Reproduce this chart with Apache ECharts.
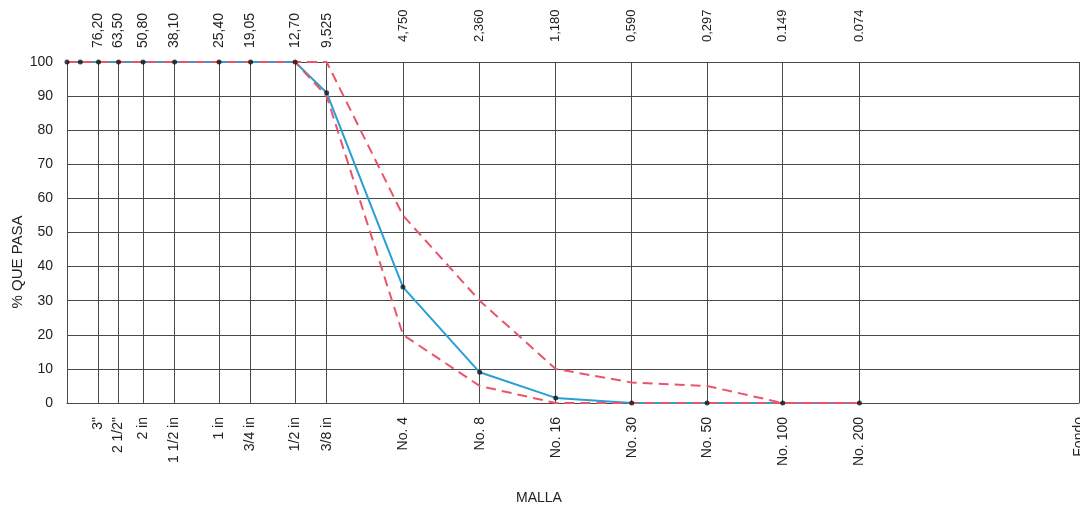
<!DOCTYPE html>
<html>
<head>
<meta charset="utf-8">
<script src="https://cdn.jsdelivr.net/npm/echarts@6/dist/echarts.min.js"></script>
<style>
  html, body { margin: 0; padding: 0; background: #fff; }
  #chart { width: 1080px; height: 507px; }
</style>
</head>
<body>
<div id="chart"></div>
<script>
  // abertura (mm) de cada punto de la curva y % que pasa
  const sizes = [101.6, 90, 76.2, 63.5, 50.8, 38.1, 25.4, 19.05, 12.7, 9.525, 4.75, 2.36, 1.18, 0.59, 0.297, 0.149, 0.074]
  const pasa = [100, 100, 100, 100, 100, 100, 100, 100, 100, 91, 34, 9, 1.5, 0, 0, 0, 0]
  const limSup = [100, 100, 100, 100, 100, 100, 100, 100, 100, 100, 55, 30, 10, 6, 5, 0, 0]
  const limInf = [100, 100, 100, 100, 100, 100, 100, 100, 100, 90, 20, 5, 0, 0, 0, 0, 0]

  // mallas del eje inferior y aberturas del eje superior
  const mallaVals = [76.2, 63.5, 50.8, 38.1, 25.4, 19.05, 12.7, 9.525, 4.75, 2.36, 1.18, 0.59, 0.297, 0.149, 0.074, 0.01]
  const mallas = ['3"', '2 1/2"', '2 in', '1 1/2 in', '1 in', '3/4 in', '1/2 in', '3/8 in', 'No. 4', 'No. 8', 'No. 16', 'No. 30', 'No. 50', 'No. 100', 'No. 200', 'Fondo']
  const aberturaTxt = ['76,20', '63,50', '50,80', '38,10', '25,40', '19,05', '12,70', '9,525', '4,750', '2,360', '1,180', '0,590', '0,297', '0.149', '0.074']

  const font = 'Liberation Sans, Arial, sans-serif'
  const gridColor = '#4a4a4a'

  function findIdx(v, list) {
    for (let i = 0; i < list.length; i++) {
      if (Math.abs(v - list[i]) / list[i] < 1e-4) return i
    }
    return -1
  }

  const pairs = (ys) => sizes.map((s, i) => [s, ys[i]])

  const chart = echarts.init(document.getElementById('chart'))
  chart.setOption({
    backgroundColor: '#fff',
    animation: false,
    grid: { left: 67, right: 1, top: 62, bottom: 104, outerBoundsMode: 'none' },
    xAxis: [
      {
        type: 'log',
        position: 'bottom',
        inverse: true,
        min: 0.01,
        max: 101.6,
        axisLine: { show: true, lineStyle: { color: gridColor, width: 1 } },
        axisTick: { show: false, customValues: mallaVals },
        splitLine: { show: true, lineStyle: { color: gridColor, width: 1 } },
        axisLabel: {
          customValues: mallaVals,
          rotate: 90,
          margin: 14,
          fontSize: 14,
          color: '#222',
          fontFamily: font,
          formatter: function (v) {
            const i = findIdx(v, mallaVals)
            return i >= 0 ? mallas[i] : ''
          }
        }
      },
      {
        type: 'log',
        position: 'top',
        inverse: true,
        min: 0.01,
        max: 101.6,
        axisLine: { show: true, lineStyle: { color: gridColor, width: 1 } },
        axisTick: { show: false, customValues: mallaVals.slice(0, 15) },
        splitLine: { show: false },
        axisLabel: {
          customValues: mallaVals.slice(0, 15),
          rotate: -90,
          margin: 14,
          color: '#222',
          fontFamily: font,
          formatter: function (v) {
            const i = findIdx(v, mallaVals)
            if (i < 0 || i > 14) return ''
            return (i < 8 ? '{a|' : '{b|') + aberturaTxt[i] + '}'
          },
          rich: {
            a: { fontSize: 14, fontFamily: font, color: '#222' },
            b: { fontSize: 13, fontFamily: font, color: '#222', padding: [0, 0, 0, 6] }
          }
        }
      }
    ],
    yAxis: {
      type: 'value',
      min: 0,
      max: 100,
      interval: 10,
      axisLine: { show: true, lineStyle: { color: gridColor, width: 1 } },
      axisTick: { show: false },
      splitLine: { show: true, lineStyle: { color: gridColor, width: 1 } },
      axisLabel: { fontSize: 14, color: '#222', fontFamily: font, margin: 14 }
    },
    graphic: [
      {
        type: 'text',
        x: 18,
        y: 262,
        rotation: Math.PI / 2,
        style: {
          text: '% QUE PASA',
          fontSize: 15,
          fontFamily: font,
          fill: '#222',
          align: 'center',
          verticalAlign: 'middle'
        }
      },
      {
        type: 'text',
        x: 539,
        y: 498,
        style: {
          text: 'MALLA',
          fontSize: 14,
          fontFamily: font,
          fill: '#222',
          align: 'center',
          verticalAlign: 'middle'
        }
      }
    ],
    series: [
      {
        name: 'Muestra',
        type: 'line',
        data: pairs(pasa),
        showSymbol: false,
        lineStyle: { color: '#2a9fd6', width: 2 },
        z: 2
      },
      {
        name: 'Limite superior',
        type: 'line',
        data: pairs(limSup),
        showSymbol: false,
        lineStyle: { color: '#e8566e', width: 2, type: [10, 6] },
        z: 3
      },
      {
        name: 'Limite inferior',
        type: 'line',
        data: pairs(limInf),
        showSymbol: false,
        lineStyle: { color: '#e8566e', width: 2, type: [10, 6] },
        z: 3
      },
      {
        name: 'Puntos',
        type: 'scatter',
        data: pairs(pasa),
        symbol: 'circle',
        symbolSize: 5,
        itemStyle: { color: '#151515' },
        z: 4
      }
    ]
  })
</script>
</body>
</html>
